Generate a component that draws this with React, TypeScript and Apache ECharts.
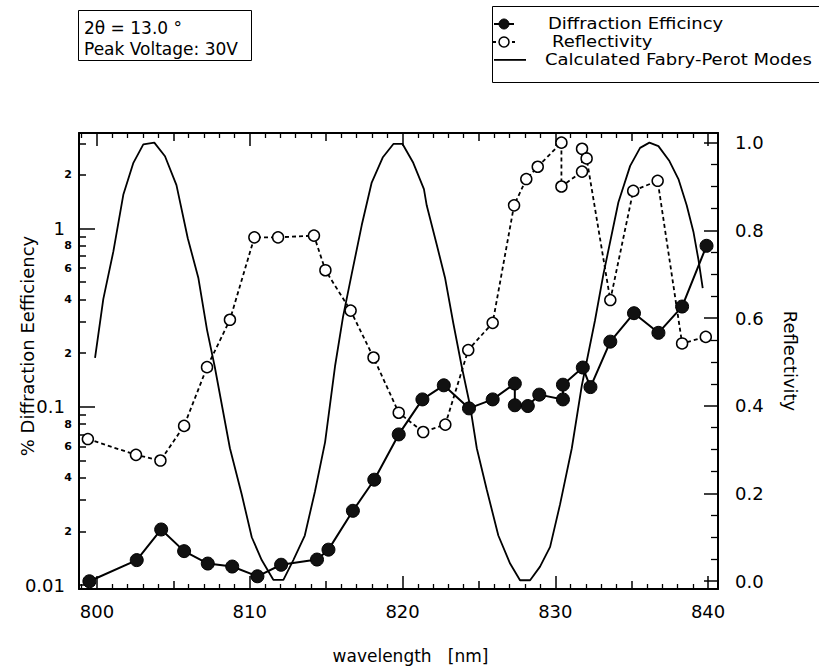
import React, { useEffect, useRef } from 'react';
import * as echarts from 'echarts';

// ---- Data ----
const deWavelength = [799.5, 802.6, 804.2, 805.7, 807.25, 808.85, 810.5, 812.05, 814.4, 815.15, 816.75, 818.15, 819.75, 821.3, 822.7, 824.35, 825.9, 827.35, 827.35, 828.2, 828.95, 830.5, 830.5, 831.8, 832.3, 833.6, 835.15, 836.75, 838.3, 839.9];
const deValue = [0.0105, 0.0138, 0.0205, 0.0155, 0.0132, 0.0127, 0.0112, 0.013, 0.0139, 0.0158, 0.0261, 0.039, 0.07, 0.11, 0.132, 0.098, 0.11, 0.135, 0.102, 0.101, 0.117, 0.11, 0.133, 0.166, 0.129, 0.232, 0.335, 0.26, 0.365, 0.8];

const reflWavelength = [799.4, 802.55, 804.15, 805.7, 807.2, 808.7, 810.3, 811.85, 814.2, 814.95, 816.6, 818.1, 819.75, 821.35, 822.8, 824.3, 825.9, 827.3, 828.1, 828.85, 830.4, 830.4, 831.75, 831.75, 832.05, 833.6, 835.1, 836.7, 838.3, 839.85];
const reflValue = [0.324, 0.288, 0.275, 0.354, 0.488, 0.596, 0.784, 0.784, 0.788, 0.709, 0.617, 0.51, 0.384, 0.34, 0.357, 0.527, 0.589, 0.857, 0.917, 0.945, 1.0, 0.9, 0.934, 0.986, 0.964, 0.641, 0.89, 0.913, 0.542, 0.557];

const fpWavelength = [799.87, 800.41, 801.07, 801.72, 802.38, 803.03, 803.75, 804.45, 805.2, 805.94, 806.63, 807.2, 807.7, 808.7, 809.47, 810.13, 810.78, 811.54, 812.2, 812.85, 813.6, 814.27, 814.93, 815.58, 816.1, 816.67, 817.33, 817.98, 818.7, 819.4, 820.0, 820.7, 821.4, 821.58, 822.24, 822.78, 823.33, 823.87, 824.42, 824.86, 825.51, 826.27, 827.04, 827.69, 828.35, 829.0, 829.66, 830.31, 831.08, 831.73, 832.6, 833.15, 834.13, 834.9, 835.55, 836.16, 836.75, 837.47, 838.06, 838.6, 839.04, 839.37, 839.65];
const fpValue = [0.509, 0.643, 0.752, 0.881, 0.954, 0.996, 1.0, 0.969, 0.903, 0.782, 0.692, 0.573, 0.49, 0.303, 0.198, 0.1, 0.048, 0.003, 0.003, 0.048, 0.104, 0.205, 0.317, 0.49, 0.602, 0.7, 0.812, 0.909, 0.966, 0.997, 0.997, 0.954, 0.894, 0.857, 0.767, 0.692, 0.587, 0.49, 0.4, 0.303, 0.209, 0.104, 0.04, 0.002, 0.002, 0.033, 0.078, 0.175, 0.303, 0.445, 0.595, 0.7, 0.864, 0.947, 0.988, 1.0, 0.992, 0.958, 0.917, 0.857, 0.797, 0.733, 0.668];

// ---- Tick labels ----
const xMajor = [800, 810, 820, 830, 840];
const xMid = [805, 815, 825, 835];
const xMinor = [799, 801, 802, 803, 804, 806, 807, 808, 809, 811, 812, 813, 814, 816, 817, 818, 819, 821, 822, 823, 824, 826, 827, 828, 829, 831, 832, 833, 834, 836, 837, 838, 839];
const leftDecades = [0.01, 0.1, 1];
const leftDecadeLabels = ['0.01', '0.1', '1'];
const leftMinorTicks = [0.02, 0.03, 0.04, 0.05, 0.06, 0.07, 0.08, 0.09, 0.2, 0.3, 0.4, 0.5, 0.6, 0.7, 0.8, 0.9, 2, 3];
const leftMinorLabels = [0.02, 0.04, 0.06, 0.08, 0.2, 0.4, 0.6, 0.8, 2];
const rightMajor = [0, 0.2, 0.4, 0.6, 0.8, 1.0];
const rightMinor = [0.05, 0.1, 0.15, 0.25, 0.3, 0.35, 0.45, 0.5, 0.55, 0.65, 0.7, 0.75, 0.85, 0.9, 0.95];

const FONT = 'DejaVu Sans';
const X_MIN = 798.82;
const X_MAX = 840.65;
const LOG_MIN = -2.0221;
const LOG_MAX = 0.5359;
const R_MIN = -0.018;
const R_MAX = 1.022;

export default function App() {
  const ref = useRef<HTMLDivElement>(null);
  useEffect(() => {
    if (!ref.current) return;
    const chart = echarts.init(ref.current, null, { renderer: 'svg' });
    const de = deWavelength.map((w, i) => [w, deValue[i]]);
    const refl = reflWavelength.map((w, i) => [w, reflValue[i]]);
    const fp = fpWavelength.map((w, i) => [w, fpValue[i]]);
    const lg = (v: number) => Math.log10(v);

    const xBase = (extra: any) => ({
      type: 'value', min: X_MIN, max: X_MAX, gridIndex: 0,
      splitLine: { show: false },
      axisLine: { show: false, onZero: false },
      axisLabel: { show: false },
      ...extra,
    });
    const line = { show: true, onZero: false, lineStyle: { color: '#000', width: 2 } };
    const legendText = (text: string, x: number, y: number) => ({
      type: 'text', x, y, z: 20, scaleX: 1.2,
      style: { text, font: `15px "${FONT}"`, fill: '#000', verticalAlign: 'middle' },
    });
    const bar = (x: number, y: number, w: number, h: number) => ({
      type: 'rect', z: 20, shape: { x, y, width: w, height: h }, style: { fill: '#000' },
    });

    const option: any = {
      animation: false,
      textStyle: { fontFamily: FONT, color: '#000' },
      grid: { left: 79, right: 101, top: 133, bottom: 73, containLabel: false },
      xAxis: [
        xBase({
          position: 'bottom', axisLine: line,
          axisTick: { show: true, inside: true, length: 13, customValues: xMajor, lineStyle: { color: '#000', width: 1.5 } },
          axisLabel: { show: true, customValues: xMajor, margin: 13, fontSize: 18, fontFamily: FONT, color: '#000' },
          name: 'wavelength   [nm]', nameLocation: 'middle', nameGap: 58,
          nameTextStyle: { fontSize: 17, fontFamily: FONT, color: '#000', padding: [0, 0, 0, 24] },
        }),
        xBase({ position: 'bottom', axisTick: { show: true, inside: true, length: 8, customValues: xMid, lineStyle: { color: '#000', width: 1.5 } } }),
        xBase({ position: 'bottom', axisTick: { show: true, inside: true, length: 5, customValues: xMinor, lineStyle: { color: '#000', width: 1.3 } } }),
        xBase({ position: 'top', axisLine: line, axisTick: { show: true, inside: true, length: 13, customValues: xMajor, lineStyle: { color: '#000', width: 1.5 } } }),
        xBase({ position: 'top', axisTick: { show: true, inside: true, length: 8, customValues: xMid, lineStyle: { color: '#000', width: 1.5 } } }),
        xBase({ position: 'top', axisTick: { show: true, inside: true, length: 5, customValues: xMinor, lineStyle: { color: '#000', width: 1.3 } } }),
      ],
      yAxis: [
        {
          type: 'log', min: Math.pow(10, LOG_MIN), max: Math.pow(10, LOG_MAX), position: 'left',
          axisLine: line, axisTick: { show: false }, axisLabel: { show: false }, splitLine: { show: false },
          name: '% Diffraction Eefficiency', nameLocation: 'middle', nameGap: 43, nameRotate: 90,
          nameTextStyle: { fontSize: 18, fontFamily: FONT, color: '#000', padding: [0, 0, 0, 30] },
        },
        {
          type: 'value', min: LOG_MIN, max: LOG_MAX, position: 'left',
          axisLine: { show: false, onZero: false }, splitLine: { show: false },
          axisTick: { show: true, inside: true, length: 16, customValues: leftDecades.map(lg), lineStyle: { color: '#000', width: 1.5 } },
          axisLabel: {
            show: true, customValues: leftDecades.map(lg), margin: 14, fontSize: 18, fontFamily: FONT, color: '#000',
            formatter: (v: number) => leftDecadeLabels[Math.round(v) + 2],
          },
        },
        {
          type: 'value', min: LOG_MIN, max: LOG_MAX, position: 'left',
          axisLine: { show: false, onZero: false }, splitLine: { show: false },
          axisTick: { show: true, inside: true, length: 7, customValues: leftMinorTicks.map(lg), lineStyle: { color: '#000', width: 1.5 } },
          axisLabel: {
            show: true, customValues: leftMinorLabels.map(lg), margin: 7, fontSize: 11, fontWeight: 'bold', fontFamily: FONT, color: '#000',
            formatter: (v: number) => String(Math.round(Math.pow(10, v) / Math.pow(10, Math.floor(v + 1e-9)))),
          },
        },
        {
          type: 'value', min: R_MIN, max: R_MAX, position: 'right',
          axisLine: line, splitLine: { show: false },
          axisTick: { show: true, inside: true, length: 14, customValues: rightMajor, lineStyle: { color: '#000', width: 1.5 } },
          axisLabel: { show: true, customValues: rightMajor, margin: 17, fontSize: 18, fontFamily: FONT, color: '#000', formatter: (v: number) => v.toFixed(1) },
          name: 'Reflectivity', nameLocation: 'middle', nameGap: 63, nameRotate: -90,
          nameTextStyle: { fontSize: 18, fontFamily: FONT, color: '#000' },
        },
        {
          type: 'value', min: R_MIN, max: R_MAX, position: 'right',
          axisLine: { show: false, onZero: false }, splitLine: { show: false },
          axisTick: { show: true, inside: true, length: 7, customValues: rightMinor, lineStyle: { color: '#000', width: 1.3 } },
          axisLabel: { show: false },
        },
      ],
      series: [
        {
          name: 'Calculated Fabry-Perot Modes', type: 'line', xAxisIndex: 0, yAxisIndex: 3, data: fp,
          showSymbol: false, symbol: 'none', lineStyle: { color: '#000', width: 1.8 }, z: 2,
        },
        {
          name: 'Reflectivity', type: 'line', xAxisIndex: 0, yAxisIndex: 3, data: refl,
          symbol: 'circle', symbolSize: 11,
          itemStyle: { color: '#fff', borderColor: '#000', borderWidth: 1.5 },
          lineStyle: { color: '#000', width: 1.8, type: [4, 3] }, z: 3,
        },
        {
          name: 'Diffraction Efficincy', type: 'line', xAxisIndex: 0, yAxisIndex: 0, data: de,
          symbol: 'circle', symbolSize: 13,
          itemStyle: { color: '#111', borderColor: '#000', borderWidth: 1 },
          lineStyle: { color: '#000', width: 2 }, z: 4,
        },
      ],
      graphic: [
        { type: 'rect', z: 10, shape: { x: 78.5, y: 10.5, width: 173, height: 50 }, style: { fill: '#fff', stroke: '#000', lineWidth: 1 } },
        { type: 'text', z: 20, x: 84, y: 28, style: { text: '2θ = 13.0 °', font: `17px "${FONT}"`, fill: '#000', verticalAlign: 'middle' } },
        { type: 'text', z: 20, x: 84, y: 49, style: { text: 'Peak Voltage: 30V', font: `17px "${FONT}"`, fill: '#000', verticalAlign: 'middle' } },
        { type: 'rect', z: 10, shape: { x: 492.5, y: 6.5, width: 340, height: 76 }, style: { fill: '#fff', stroke: '#000', lineWidth: 1 } },
        bar(494, 23, 20, 2),
        { type: 'circle', z: 21, shape: { cx: 504, cy: 24, r: 5 }, style: { fill: '#111', stroke: '#000' } },
        bar(493, 41, 3, 2),
        bar(512, 41, 3, 2),
        { type: 'circle', z: 21, shape: { cx: 504, cy: 42, r: 5 }, style: { fill: '#fff', stroke: '#000', lineWidth: 1.5 } },
        bar(494, 59, 32, 1.8),
        legendText('Diffraction Efficincy', 548, 24),
        legendText('Reflectivity', 552, 42),
        legendText('Calculated Fabry-Perot Modes', 545, 60),
      ],
    };
    chart.setOption(option);
    return () => chart.dispose();
  }, []);
  return <div ref={ref} style={{ position: 'fixed', left: 0, top: 0, width: 819, height: 669, background: '#fff' }} />;
}
